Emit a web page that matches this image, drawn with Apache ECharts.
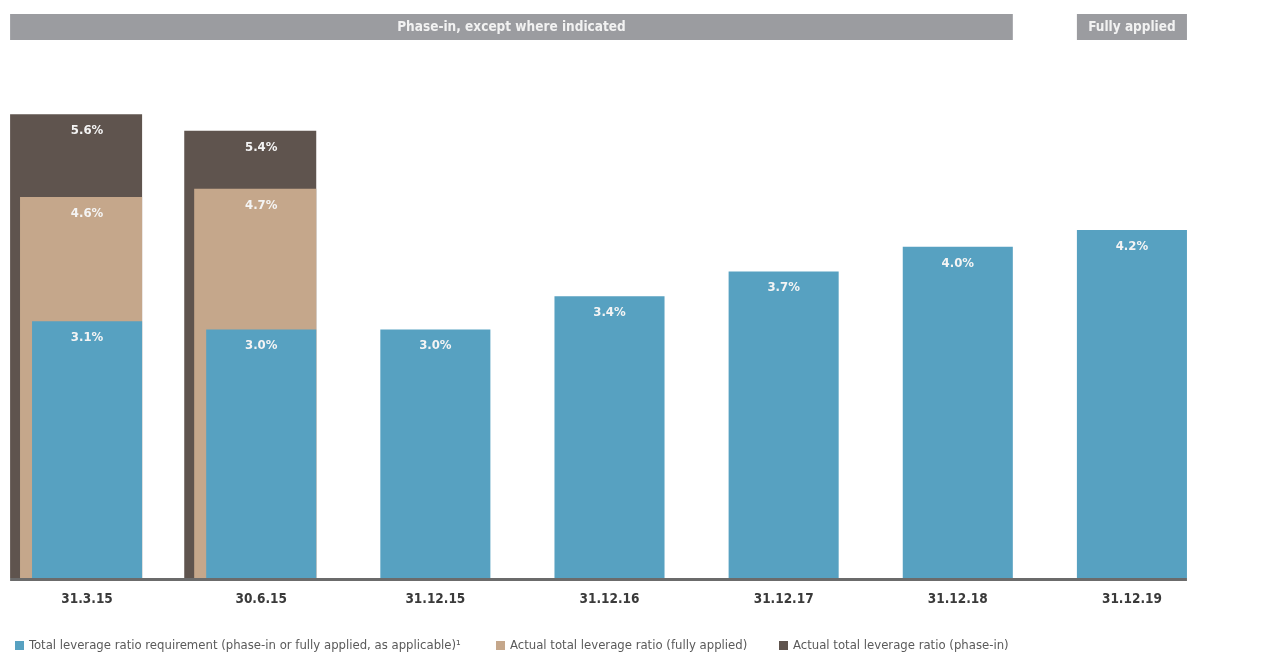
<!DOCTYPE html>
<html>
<head>
<meta charset="utf-8">
<script src="https://cdn.jsdelivr.net/npm/echarts@6/dist/echarts.min.js"></script>
<style>
html,body{margin:0;padding:0;background:#fff;}
#chart{width:1276px;height:652px;}
</style>
</head>
<body>
<div id="chart"></div>
<script>
const categories = ['31.3.15','30.6.15','31.12.15','31.12.16','31.12.17','31.12.18','31.12.19'];
const requirement = [3.1, 3.0, 3.0, 3.4, 3.7, 4.0, 4.2];
const fullyApplied = [4.6, 4.7, null, null, null, null, null];
const phaseIn = [5.6, 5.4, null, null, null, null, null];
const seriesNames = [
  'Total leverage ratio requirement (phase-in or fully applied, as applicable)\u00b9',
  'Actual total leverage ratio (fully applied)',
  'Actual total leverage ratio (phase-in)'
];
const headerPhase = 'Phase-in, except where indicated';
const headerFull = 'Fully applied';

const FONT = '"Liberation Sans Narrow","DejaVu Sans Condensed","Open Sans",sans-serif';
const colors = { req: '#57a1c1', full: '#c5a78b', phase: '#5f544e' };

// bar geometry relative to the category band (left offset / right offset from center)
const geom = {
  req:   [0.316, 0.316],
  full:  [0.385, 0.316],
  phase: [0.442, 0.316]
};

function toData(arr) {
  const out = [];
  arr.forEach((v, i) => { if (v != null) out.push([i, v]); });
  return out;
}

function makeRender(g, color) {
  return function (params, api) {
    const idx = api.value(0), val = api.value(1);
    const top = api.coord([idx, val]);
    const base = api.coord([idx, 0]);
    const bw = api.size([1, 0])[0];
    const x0 = top[0] - g[0] * bw;
    const w = (g[0] + g[1]) * bw;
    return {
      type: 'group',
      children: [
        { type: 'rect', shape: { x: x0, y: top[1], width: w, height: base[1] - top[1] }, style: { fill: color } },
        { type: 'text', style: {
            x: top[0], y: top[1] + 10, text: val.toFixed(1) + '%',
            align: 'center', verticalAlign: 'top',
            fill: '#f4f4f4', font: 'bold 13px ' + FONT
          } }
      ]
    };
  };
}

const chart = echarts.init(document.getElementById('chart'));
const legendText = { color: '#5a5a5a', fontSize: 13, fontFamily: FONT };
chart.setOption({
  animation: false,
  grid: { left: 0, right: 57, top: 81, bottom: 74 },
  xAxis: {
    type: 'category', data: categories,
    axisLine: { show: false }, axisTick: { show: false },
    axisLabel: { margin: 14, color: '#3a3a3a', fontWeight: 'bold', fontSize: 13.5, fontFamily: FONT }
  },
  yAxis: { type: 'value', min: 0, max: 6, show: false, splitLine: { show: false } },
  legend: [
    { data: [seriesNames[0]], left: 10, top: 634, itemWidth: 9, itemHeight: 9, textStyle: legendText, icon: 'rect' },
    { data: [seriesNames[1]], left: 491, top: 634, itemWidth: 9, itemHeight: 9, textStyle: legendText, icon: 'rect' },
    { data: [seriesNames[2]], left: 774, top: 634, itemWidth: 9, itemHeight: 9, textStyle: legendText, icon: 'rect' }
  ],
  series: [
    { name: seriesNames[2], type: 'custom', data: toData(phaseIn), encode: { x: 0, y: 1 },
      itemStyle: { color: colors.phase }, renderItem: makeRender(geom.phase, colors.phase) },
    { name: seriesNames[1], type: 'custom', data: toData(fullyApplied), encode: { x: 0, y: 1 },
      itemStyle: { color: colors.full }, renderItem: makeRender(geom.full, colors.full) },
    { name: seriesNames[0], type: 'custom', data: toData(requirement), encode: { x: 0, y: 1 },
      itemStyle: { color: colors.req }, renderItem: makeRender(geom.req, colors.req) }
  ]
});

// decorations derived from axis positions
const c0 = chart.convertToPixel({ xAxisIndex: 0 }, 0);
const c5 = chart.convertToPixel({ xAxisIndex: 0 }, 5);
const c6 = chart.convertToPixel({ xAxisIndex: 0 }, 6);
const c1 = chart.convertToPixel({ xAxisIndex: 0 }, 1);
const bw = c1 - c0;
const yBase = chart.convertToPixel({ yAxisIndex: 0 }, 0);
const lx0 = c0 - geom.phase[0] * bw;
const lx1 = c6 + geom.req[1] * bw;
const hx1 = c5 + geom.req[1] * bw;
const fx0 = c6 - geom.req[0] * bw;
chart.setOption({
  graphic: [
    { type: 'line', shape: { x1: lx0, y1: yBase + 1.5, x2: lx1, y2: yBase + 1.5 }, style: { stroke: '#6b6b6b', lineWidth: 3 } },
    { type: 'rect', shape: { x: lx0, y: 14, width: hx1 - lx0, height: 26 }, style: { fill: '#9b9ca0' } },
    { type: 'text', style: { x: (lx0 + hx1) / 2, y: 27, text: headerPhase, align: 'center', verticalAlign: 'middle', fill: '#f2f2f2', font: 'bold 13.5px ' + FONT } },
    { type: 'rect', shape: { x: fx0, y: 14, width: lx1 - fx0, height: 26 }, style: { fill: '#9b9ca0' } },
    { type: 'text', style: { x: (fx0 + lx1) / 2, y: 27, text: headerFull, align: 'center', verticalAlign: 'middle', fill: '#f2f2f2', font: 'bold 13.5px ' + FONT } }
  ]
});
</script>
</body>
</html>
